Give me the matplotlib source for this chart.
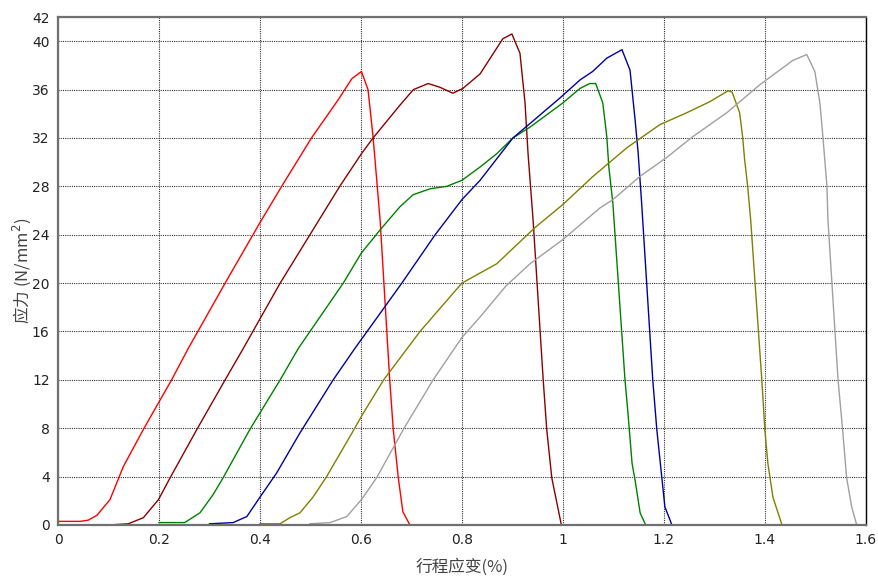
import matplotlib.pyplot as plt

plt.rcParams['font.family'] = ['Noto Sans CJK SC', 'DejaVu Sans']

# strain (%) / stress (N/mm^2) for each specimen
red_x = [0, 0.044, 0.06, 0.077, 0.103, 0.129, 0.169, 0.199, 0.225, 0.258, 0.331, 0.4, 0.443, 0.502, 0.554,
         0.582, 0.601, 0.614, 0.624, 0.638, 0.657, 0.664, 0.674, 0.683, 0.697]
red_y = [0.3, 0.3, 0.4, 0.8, 2.1, 4.8, 7.9, 10.1, 12.0, 14.6, 20.0, 25.0, 28.0, 32.0, 35.1,
         36.9, 37.5, 36.0, 32.1, 25.2, 12.0, 7.9, 3.9, 1.1, 0.0]

maroon_x = [0.1, 0.139, 0.169, 0.199, 0.222, 0.275, 0.331, 0.367, 0.44, 0.499, 0.558, 0.601, 0.624, 0.677,
            0.704, 0.733, 0.756, 0.782, 0.802, 0.836, 0.881, 0.899, 0.915, 0.925, 0.931, 0.941, 0.961,
            0.968, 0.978, 0.997]
maroon_y = [0.0, 0.1, 0.6, 2.1, 3.9, 7.9, 12.0, 14.6, 20.0, 24.0, 28.0, 30.7, 32.0, 34.7,
            36.0, 36.5, 36.2, 35.7, 36.1, 37.3, 40.2, 40.6, 39.0, 34.9, 30.7, 25.2, 12.0,
            7.9, 3.9, 0.0]

green_x = [0.2, 0.251, 0.281, 0.307, 0.327, 0.38, 0.44, 0.476, 0.565, 0.601, 0.638, 0.677, 0.703, 0.737,
           0.77, 0.8, 0.836, 0.869, 0.901, 0.935, 1.0, 1.034, 1.053, 1.065, 1.079, 1.087, 1.091, 1.099,
           1.123, 1.129, 1.137, 1.143, 1.153, 1.164]
green_y = [0.2, 0.2, 1.0, 2.5, 3.9, 7.9, 12.0, 14.6, 20.0, 22.5, 24.4, 26.3, 27.3, 27.8,
           28.0, 28.5, 29.6, 30.7, 32.0, 32.9, 34.9, 36.1, 36.5, 36.5, 34.9, 32.1, 29.6, 26.6,
           12.0, 9.2, 5.1, 3.7, 1.0, 0.0]

blue_x = [0.3, 0.347, 0.374, 0.4, 0.433, 0.479, 0.545, 0.588, 0.638, 0.681, 0.747, 0.8, 0.836, 0.901,
          0.935, 0.994, 1.034, 1.059, 1.087, 1.117, 1.133, 1.143, 1.149, 1.156, 1.178, 1.186, 1.196,
          1.202, 1.216]
blue_y = [0.1, 0.2, 0.7, 2.3, 4.3, 7.6, 12.0, 14.6, 17.5, 20.0, 24.0, 26.9, 28.5, 32.0,
          33.2, 35.3, 36.8, 37.5, 38.6, 39.3, 37.6, 33.5, 30.8, 26.6, 12.0, 7.9, 3.9,
          1.5, 0.0]

olive_x = [0.4, 0.44, 0.459, 0.479, 0.505, 0.532, 0.578, 0.604, 0.645, 0.717, 0.8, 0.869, 0.945, 1.0,
           1.059, 1.127, 1.192, 1.246, 1.291, 1.327, 1.335, 1.35, 1.356, 1.36, 1.366, 1.372, 1.394,
           1.4, 1.406, 1.416, 1.434]
olive_y = [0.1, 0.1, 0.6, 1.0, 2.3, 4.0, 7.3, 9.2, 12.0, 16.0, 20.0, 21.6, 24.6, 26.5,
           28.8, 31.2, 33.1, 34.1, 35.0, 35.9, 35.8, 34.1, 32.1, 30.2, 28.0, 25.2, 12.0,
           7.9, 5.1, 2.3, 0.0]

gray_x = [0.499, 0.539, 0.572, 0.601, 0.631, 0.684, 0.743, 0.8, 0.836, 0.888, 0.935, 1.0, 1.073, 1.099,
          1.152, 1.206, 1.257, 1.325, 1.39, 1.455, 1.483, 1.499, 1.509, 1.515, 1.523, 1.525, 1.545,
          1.554, 1.562, 1.572, 1.582]
gray_y = [0.1, 0.2, 0.7, 2.1, 3.9, 7.9, 12.0, 15.5, 17.2, 19.8, 21.6, 23.6, 26.2, 26.9,
          28.8, 30.4, 32.1, 34.1, 36.4, 38.4, 38.9, 37.5, 34.9, 32.1, 28.0, 25.2, 12.0,
          7.9, 3.9, 1.5, 0.0]

x_ticks = [0, 0.2, 0.4, 0.6, 0.8, 1, 1.2, 1.4, 1.6]
x_tick_labels = ['0', '0.2', '0.4', '0.6', '0.8', '1', '1.2', '1.4', '1.6']
y_ticks = [0, 4, 8, 12, 16, 20, 24, 28, 32, 36, 40, 42]

fig = plt.figure(figsize=(8.79, 5.81), dpi=100)
ax = fig.add_axes([0.066, 0.0964, 0.919, 0.8743])

series = [
    (red_x, red_y, '#ff0000'),
    (maroon_x, maroon_y, '#8b0000'),
    (green_x, green_y, '#008000'),
    (blue_x, blue_y, '#0000a0'),
    (olive_x, olive_y, '#808000'),
    (gray_x, gray_y, '#a0a0a0'),
]
for xs, ys, c in series:
    ax.plot(xs, ys, color=c, lw=1.0)

ax.set_xlim(0, 1.6)
ax.set_ylim(0, 42)
ax.set_xticks(x_ticks)
ax.set_xticklabels(x_tick_labels)
ax.set_yticks(y_ticks)
ax.tick_params(length=0, pad=6, labelsize=10, colors='#222222')
for lbl in ax.get_xticklabels() + ax.get_yticklabels():
    lbl.set_family('DejaVu Sans')
ax.grid(True, color='#333333', linestyle=(0, (1, 1)), lw=0.8)

for side in ['left', 'bottom', 'top']:
    ax.spines[side].set_color('#707070')
    ax.spines[side].set_linewidth(1.6)
ax.spines['right'].set_color('#000000')
ax.spines['right'].set_linewidth(1.0)

ax.set_xlabel('行程应变(%)', fontsize=12, color='#444444', labelpad=8)
ax.set_ylabel(r'应力 (N/mm$^2$)', fontsize=12, color='#444444', labelpad=-1)

plt.savefig('out.png', dpi=100)
plt.close()
